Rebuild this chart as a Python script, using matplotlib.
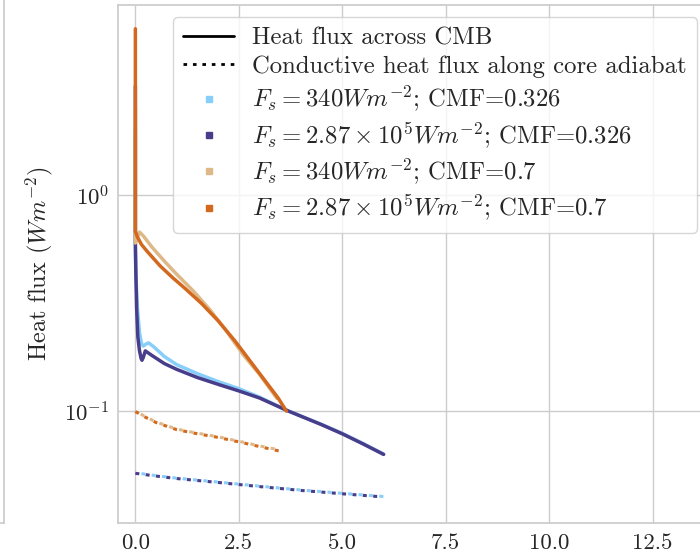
import matplotlib
matplotlib.use("Agg")
import matplotlib.pyplot as plt
import seaborn as sns
from matplotlib.lines import Line2D

sns.set_theme(style="whitegrid")
plt.rcParams["font.family"] = "serif"
plt.rcParams["font.serif"] = ["cmr10"]
plt.rcParams["mathtext.fontset"] = "cm"
plt.rcParams["axes.formatter.use_mathtext"] = True

# Time axis (Gyr) and CMB heat flux for each run
x_lb = [0, 0, 0.02, 0.05, 0.10, 0.15, 0.19, 0.25, 0.32, 0.45, 0.7, 1.0, 1.5, 2.0, 2.5, 3.0, 3.7, 4.5, 5.0, 5.5, 6.0]
y_lb = [2.0, 0.55, 0.40, 0.30, 0.23, 0.205, 0.2, 0.204, 0.207, 0.198, 0.179, 0.164, 0.149, 0.137, 0.127, 0.116, 0.1, 0.0868, 0.0788, 0.0708, 0.0632]

x_db = [0, 0, 0.01, 0.03, 0.06, 0.10, 0.14, 0.16, 0.19, 0.24, 0.4, 0.7, 1.0, 1.5, 2.0, 2.5, 3.0, 3.7, 4.5, 5.0, 5.5, 6.0]
y_db = [3.2, 0.6, 0.45, 0.30, 0.22, 0.19, 0.175, 0.172, 0.177, 0.19, 0.181, 0.166, 0.156, 0.143, 0.133, 0.124, 0.115, 0.1, 0.0865, 0.0785, 0.0705, 0.063]

x_tan = [0, 0, 0.05, 0.1, 0.2, 0.4, 0.7, 1.0, 1.4, 1.8, 2.2, 2.6, 3.0, 3.2, 3.42]
y_tan = [2.5, 0.6, 0.64, 0.675, 0.645, 0.575, 0.495, 0.43, 0.36, 0.295, 0.235, 0.183, 0.148, 0.131, 0.1145]

x_or = [0, 0, 0.05, 0.15, 0.3, 0.6, 0.9, 1.2, 1.6, 2.0, 2.4, 2.8, 3.2, 3.45, 3.65]
y_or = [5.9, 0.68, 0.64, 0.59, 0.545, 0.47, 0.415, 0.37, 0.315, 0.262, 0.212, 0.168, 0.133, 0.115, 0.1]

# Conductive heat flux along the core adiabat
xc_lb = [0, 0.5, 1.0, 2.0, 3.0, 4.0, 5.0, 6.0]
yc_lb = [0.0518, 0.0502, 0.0489, 0.0469, 0.0449, 0.0431, 0.0416, 0.0402]
xc_db = [0, 0.5, 1.0, 2.0, 3.0, 4.0, 5.0, 6.0]
yc_db = [0.0515, 0.0500, 0.0487, 0.0467, 0.0447, 0.0429, 0.0414, 0.0400]
xc_tan = [0, 0.25, 0.5, 1.0, 1.5, 2.0, 2.5, 3.0, 3.5]
yc_tan = [0.1, 0.094, 0.089, 0.0825, 0.079, 0.076, 0.0725, 0.069, 0.066]
xc_or = [0, 0.25, 0.5, 1.0, 1.5, 2.0, 2.5, 3.0, 3.6]
yc_or = [0.0995, 0.0935, 0.0885, 0.082, 0.0785, 0.0755, 0.072, 0.0685, 0.0645]

labels = [
    r"$F_s=340Wm^{-2}$; CMF=0.326",
    r"$F_s=2.87\times10^5Wm^{-2}$; CMF=0.326",
    r"$F_s=340Wm^{-2}$; CMF=0.7",
    r"$F_s=2.87\times10^5Wm^{-2}$; CMF=0.7",
]
colors = ["#87CEFA", "#483D8B", "#DEB887", "#D2691E"]

DOT = (1.3, 2.1)

fig = plt.figure(figsize=(7.0, 5.53), dpi=100)

# neighbouring panel edge on the left
axl = fig.add_axes([-0.5, 0.0542, 0.5 + 3.5 / 700, 1.2])
axl.set_xticks([])
axl.set_yticks([])
axl.grid(False)

ax = fig.add_axes([118 / 700, 0.0542, 0.87, 0.9367])

solid = [(x_lb, y_lb), (x_db, y_db), (x_tan, y_tan), (x_or, y_or)]
for (xs, ys), c in zip(solid, colors):
    ax.plot(xs, ys, color=c, lw=2.5, solid_capstyle="round", solid_joinstyle="round")

# dotted adiabat curves: darker run underneath, lighter run on top, phase-shifted
ax.plot(xc_db, yc_db, color=colors[1], lw=2.2, linestyle=(0, DOT))
ax.plot(xc_lb, yc_lb, color=colors[0], lw=2.2, linestyle=(1.4, DOT))
ax.plot(xc_or, yc_or, color=colors[3], lw=2.2, linestyle=(0, DOT))
ax.plot(xc_tan, yc_tan, color=colors[2], lw=2.2, linestyle=(1.4, DOT))

ax.set_yscale("log")
ax.set_xlim(-0.42, 14.3)
ax.set_ylim(0.0303, 7.6)
ax.set_xticks([0, 2.5, 5.0, 7.5, 10.0, 12.5])
ax.set_xticklabels(["0.0", "2.5", "5.0", "7.5", "10.0", "12.5"])
ax.minorticks_off()
ax.tick_params(labelsize=16.5)
ax.tick_params(axis="x", pad=1.5)
ax.tick_params(axis="y", pad=0.5)
ax.set_ylabel(r"Heat flux ($Wm^{-2}$)", fontsize=17.5, labelpad=6)

handles = [
    Line2D([], [], color="black", lw=2.0),
    Line2D([], [], color="black", lw=2.0, linestyle=(0, DOT)),
] + [Line2D([], [], color=c, marker="s", markersize=4.5, linestyle="none") for c in colors]
leg_labels = ["Heat flux across CMB", "Conductive heat flux along core adiabat"] + labels
ax.legend(handles, leg_labels, loc="upper right", bbox_to_anchor=(697 / 700, 1 - 17 / 553),
          bbox_transform=fig.transFigure, borderaxespad=0, fontsize=17.8, handlelength=2.05,
          handletextpad=0.75, labelspacing=0.25, borderpad=0.4, frameon=True, framealpha=0.8)

fig.savefig("out.png", dpi=100)
